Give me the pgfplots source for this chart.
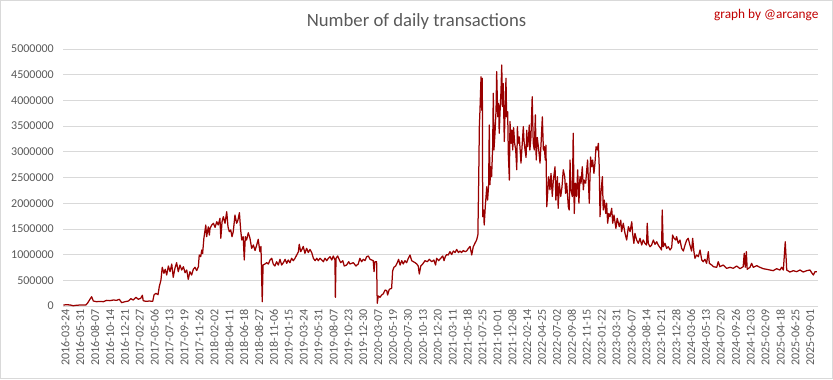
\documentclass[border=0pt]{standalone}
\usepackage{pgfplots}
\pgfplotsset{compat=1.18}
\usepackage{fontspec}
\setmainfont{Carlito}
\definecolor{txt}{RGB}{89,89,89}
\definecolor{gridc}{RGB}{217,217,217}
\definecolor{ser}{RGB}{153,0,0}
\definecolor{sig}{RGB}{192,0,0}
\begin{document}
\begin{tikzpicture}[x=1bp,y=1bp]
\useasboundingbox (0,0) rectangle (833,379);
\draw[gridc, line width=0.75bp] (0.5,0.5) rectangle (832.5,378.5);
\node[txt, font=\fontsize{18.7bp}{22bp}\selectfont] at (416.5,357) {Number of daily transactions};
\node[sig, anchor=east, font=\fontsize{13.3bp}{16bp}\selectfont] at (822,364) {graph by @arcange};
\begin{axis}[
  at={(63.3bp,73bp)}, anchor=south west,
  scale only axis, width=754.7bp, height=257bp,
  xmin=0, xmax=3570, ymin=0, ymax=5000000,
  axis line style={draw=none},
  major tick length=0pt,
  ymajorgrids, grid style={gridc, line width=0.75bp},
  ytick={0,500000,...,5000000},
  scaled y ticks=false,
  yticklabel style={/pgf/number format/fixed, /pgf/number format/1000 sep={}, xshift=-6bp},
  /pgf/number format/assume math mode=true,
  tick label style={txt, font=\fontsize{12bp}{14bp}\selectfont},
  xtick={0,70.48,...,3530},
  xticklabels={2016-03-24,2016-05-31,2016-08-07,2016-10-14,2016-12-21,2017-02-27,2017-05-06,2017-07-13,2017-09-19,2017-11-26,2018-02-02,2018-04-11,2018-06-18,2018-08-27,2018-11-06,2019-01-15,2019-03-24,2019-05-31,2019-08-07,2019-10-23,2019-12-30,2020-03-07,2020-05-19,2020-07-30,2020-10-13,2020-12-20,2021-03-11,2021-05-18,2021-07-25,2021-10-01,2021-12-08,2022-02-14,2022-04-25,2022-07-02,2022-09-08,2022-11-15,2023-01-22,2023-03-31,2023-06-07,2023-08-14,2023-10-21,2023-12-28,2024-03-06,2024-05-13,2024-07-20,2024-09-26,2024-12-03,2025-02-09,2025-04-18,2025-06-25,2025-09-01},
  xticklabel style={rotate=90, anchor=east, yshift=-2bp},
]
\addplot[ser, line width=1.25bp, line join=round] coordinates {
(0,19000)(16,25000)(32,20000)(47,5000)(63,15000)(87,20000)(107,20000)(114,52000)(126,130000)(134,181000)(142,97000)(158,84000)(174,90000)(189,84000)(205,110000)(221,104000)(237,117000)(252,110000)(265,130000)(276,65000)(292,84000)(308,97000)(319,143000)(331,117000)(344,169000)(355,130000)(366,150000)(374,208000)(378,104000)(391,90000)(407,97000)(423,90000)(429,214000)(438,247000)(448,220000)(454,376000)(462,506000)(468,753000)(476,636000)(482,714000)(489,603000)(497,778000)(505,668000)(513,817000)(520,558000)(528,733000)(536,843000)(544,668000)(552,797000)(560,700000)(568,765000)(576,648000)(584,700000)(591,519000)(599,668000)(607,603000)(615,714000)(623,753000)(631,690000)(639,765000)(643,992000)(650,960000)(655,1089000)(659,1020000)(665,1317000)(674,1576000)(678,1349000)(686,1540000)(691,1380000)
(694,1510000)(702,1576000)(710,1609000)(718,1530000)(726,1640000)(733,1576000)(741,1706000)(745,1317000)(751,1640000)(757,1738000)(765,1609000)(773,1835000)(779,1544000)(785,1446000)(792,1480000)(798,1349000)(804,1446000)(812,1770000)(820,1609000)(826,1670000)(833,1815000)(839,1480000)(844,1284000)(851,1349000)(856,895000)(861,1349000)(867,1284000)(875,1426000)(883,1317000)(891,1122000)(899,1187000)(907,1080000)(915,1187000)(922,1297000)(930,1057000)(935,1160000)(941,84000)(945,797000)(954,817000)(962,843000)(970,817000)(978,895000)(986,928000)(993,817000)(1001,778000)(1009,862000)(1017,797000)(1025,908000)(1033,797000)(1041,843000)(1049,908000)(1057,830000)(1064,895000)(1072,843000)(1080,928000)(1088,882000)(1096,928000)(1104,992000)(1112,1057000)(1116,1200000)(1123,1057000)(1129,1100000)(1135,1160000)(1143,1025000)(1151,1122000)(1159,1040000)(1167,1100000)(1175,1040000)(1183,928000)(1191,882000)(1199,928000)(1206,882000)(1214,928000)(1222,895000)(1230,862000)(1238,928000)(1246,882000)(1254,928000)(1262,960000)(1270,895000)(1277,973000)(1285,895000)(1287,169000)(1290,928000)(1298,973000)(1306,895000)(1312,843000)(1322,882000)(1329,778000)(1340,797000)(1350,862000)
(1356,817000)(1372,843000)(1384,778000)(1395,817000)(1403,928000)(1411,862000)(1419,908000)(1427,882000)(1435,960000)(1443,973000)(1451,908000)(1459,895000)(1466,882000)(1470,668000)(1474,862000)(1482,862000)(1485,52000)(1490,195000)(1498,169000)(1506,214000)(1514,240000)(1522,311000)(1530,298000)(1534,214000)(1542,324000)(1553,344000)(1558,687000)(1564,753000)(1572,778000)(1580,843000)(1586,908000)(1593,797000)(1601,882000)(1608,817000)(1616,882000)(1624,843000)(1632,928000)(1640,992000)(1648,882000)(1656,862000)(1664,843000)(1672,817000)(1679,778000)(1684,622000)(1691,778000)(1700,817000)(1711,882000)(1722,862000)(1731,908000)(1743,862000)(1753,895000)(1761,797000)(1766,928000)(1776,882000)(1785,928000)(1795,973000)(1801,882000)(1807,960000)(1813,1000000)(1821,992000)(1829,1057000)(1837,1000000)(1845,1070000)(1853,1040000)(1861,1100000)(1869,1040000)(1876,1070000)(1884,1040000)(1892,1080000)(1900,1057000)(1908,1070000)(1916,1120000)(1924,1160000)(1932,992000)(1939,1150000)(1947,1220000)(1955,1284000)
(1961,1380000)(1965,2450000)(1968,3490000)(1971,3810000)(1976,4460000)(1979,3810000)(1982,4430000)(1984,1737000)(1988,1868000)(1991,1576000)(1996,1930000)(2003,2320000)(2007,2060000)(2012,2360000)(2015,3520000)(2018,2360000)(2022,2710000)(2026,2515000)(2031,3100000)(2034,4140000)(2037,3035000)(2042,3360000)(2047,3810000)(2050,4560000)(2055,3680000)(2059,3940000)(2062,3360000)(2067,3880000)(2070,4140000)(2074,4690000)(2077,3880000)(2081,4330000)(2086,3200000)(2089,3680000)(2094,4430000)(2097,3680000)(2102,3780000)(2105,2970000)(2110,2450000)(2113,3590000)(2118,3165000)(2122,3420000)(2126,3035000)(2130,3470000)(2135,3165000)(2140,3035000)(2145,2650000)(2148,3490000)(2152,3165000)(2157,3290000)(2162,2970000)(2165,2780000)(2170,3100000)(2176,3490000)(2179,3230000)(2184,3035000)(2189,2890000)(2192,3420000)(2197,3100000)(2201,3290000)(2204,3520000)(2207,3035000)(2212,3280000)(2218,4070000)(2223,3165000)(2228,3035000)(2233,3720000)(2237,2840000)(2242,3280000)(2249,3035000)(2255,2780000)(2260,3165000)(2266,3680000)(2271,3035000)(2275,3100000)(2280,2840000)(2283,3130000)(2287,1930000)(2291,2190000)(2296,2515000)(2302,2260000)(2307,2580000)(2313,2130000)(2318,2450000)(2326,2710000)(2330,2060000)(2337,2515000)(2341,1900000)(2346,2390000)(2353,2130000)(2359,2320000)(2365,2650000)(2372,2515000)(2376,2190000)(2381,2390000)(2389,1930000)(2393,1868000)(2397,2840000)(2401,2260000)(2408,2130000)(2412,3360000)(2417,1800000)(2422,2390000)(2428,2130000)(2433,2650000)(2439,2000000)(2444,2515000)(2449,2390000)(2455,2710000)(2460,2260000)(2464,2450000)(2471,2390000)(2476,2650000)(2480,2840000)(2485,2320000)(2488,2000000)(2494,2900000)(2499,2710000)(2504,2840000)(2510,2580000)(2515,2780000)(2520,3100000)(2526,3035000)(2531,3165000)(2535,2710000)(2539,1737000)(2543,2190000)(2550,2515000)(2554,1868000)(2559,2060000)(2566,1800000)(2570,2000000)(2575,1610000)(2580,1800000)(2586,1737000)
(2594,1900000)(2599,1610000)(2605,1770000)(2614,1510000)(2620,1706000)(2630,1544000)(2637,1670000)(2641,1446000)(2649,1610000)(2657,1414000)(2665,1284000)(2673,1544000)(2681,1446000)(2689,1640000)(2693,1414000)(2699,1220000)(2704,1414000)(2712,1284000)(2720,1220000)(2728,1317000)(2736,1187000)(2743,1284000)(2751,1220000)(2759,1187000)(2762,1610000)(2767,1220000)(2775,1154000)(2783,1187000)(2791,1284000)(2799,1200000)(2807,1250000)(2814,1187000)(2822,1140000)(2830,1090000)(2833,1868000)(2838,1154000)(2846,1220000)(2854,1120000)(2862,1154000)(2870,1090000)(2878,1140000)(2882,1380000)(2889,1317000)(2897,1284000)(2901,1349000)(2909,1220000)(2917,1284000)(2925,1120000)(2933,1070000)(2941,1187000)(2949,1284000)(2956,1317000)(2964,1187000)(2972,1070000)(2977,1317000)(2983,1057000)(2988,928000)(2996,992000)(3004,960000)(3012,1090000)(3020,895000)(3027,862000)(3035,908000)(3043,830000)(3051,1057000)(3056,830000)(3067,797000)(3075,765000)(3091,753000)(3098,862000)(3106,765000)(3122,797000)(3138,733000)(3154,753000)(3169,733000)(3185,778000)(3201,726000)(3216,765000)(3221,1025000)(3226,753000)(3231,1057000)(3235,714000)(3248,753000)(3256,830000)(3264,753000)(3280,785000)(3295,753000)(3311,726000)(3327,714000)(3343,700000)(3358,687000)(3374,726000)(3390,700000)(3398,753000)(3406,700000)(3415,1250000)(3422,700000)(3437,661000)(3453,687000)(3469,668000)(3485,700000)(3500,661000)(3516,687000)(3532,700000)(3540,648000)(3548,603000)(3556,668000)(3564,668000)
};
\end{axis}
\end{tikzpicture}
\end{document}
